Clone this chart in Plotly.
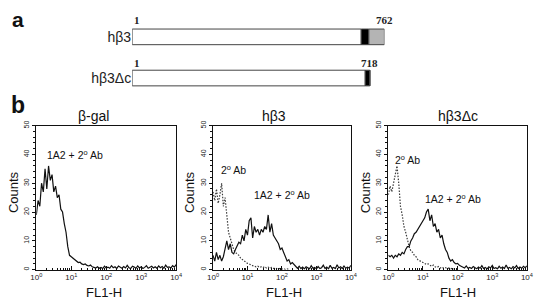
import numpy as np
import plotly.graph_objects as go

W, H = 542, 306

# ---------------- part a: constructs ----------------
CONSTRUCTS = ["hβ3", "hβ3Δc"]
CONSTRUCT_LEN = [762, 718]
TM_START = [692, 704]
TM_END = [715, 718]

# ---------------- part b: FACS histograms ----------------
FL1_LOG = np.linspace(0, 4, 81)  # channel positions (log10 FL1-H)

BGAL_1A2 = [19, 24, 22, 30, 27, 35, 28, 36, 31, 33, 27, 29, 25, 26, 21, 20, 16, 13, 8, 5,
            4.5, 4, 3.5, 3, 2.5, 2.6, 2, 1.8, 2, 1.5, 1.3, 1.6, 1, 0.8,
            0.6, 1.0, 0.5, 0.8, 0.4, 1.2, 0.6, 0.9, 0.5, 1.4, 0.7, 1.0, 0.4, 1.3, 0.8, 0.5,
            1.1, 0.6, 1.5, 0.7, 0.4, 1.2, 0.9, 0.5, 1.3, 0.6, 1.0, 0.4, 0.8, 1.4, 0.5, 0.9,
            1.2, 0.6, 1.0, 0.5, 1.3, 0.7, 1.1, 0.5, 1.6, 0.8, 1.0, 0.6, 1.4, 0.9, 1.8]

HB3_2AB = [27, 24, 28, 23, 26, 30, 22, 25, 19, 13, 11, 9, 7, 6, 5.5, 5, 4, 3.5, 3, 2.5,
           2.2, 2, 1.6, 1.4, 1.2, 1.0, 1.2, 0.8, 1.0, 0.7, 1.1, 0.6, 0.9, 0.5, 0.8, 0.4,
           0.6, 0.3, 0.2, 0.5, 0.2, 0.4, 0.1, 0.3, 0.1]

HB3_1A2 = [5, 3, 6, 3.5, 5, 3, 4.5, 7, 10, 7, 9, 6, 5.5, 7, 8, 9.5, 9, 12, 10, 14,
           12, 17, 18, 11, 15, 13, 14, 12, 14, 13, 15, 14, 19, 13, 16, 12, 11, 10, 9, 7,
           7.5, 6, 4.5, 3, 3.5, 2, 2.5, 1.8, 1.2,
           0.5, 1.2, 0.4, 0.9, 0.3, 1.0, 0.6, 0.3, 1.4, 0.5, 0.8, 0.3, 1.1, 0.4, 0.7, 1.6,
           0.4, 0.9, 0.3, 1.5, 0.5, 0.8, 0.4, 1.7, 0.6, 1.0, 0.4, 1.3, 0.5, 0.9, 0.6, 1.5]

HB3DC_2AB = [26, 29, 27, 30, 33, 36, 30, 22, 19, 15, 13, 10, 8, 6.5, 6, 5, 4.5, 3.5, 3, 2.8,
             2.5, 2, 1.8, 2, 1.5, 1.2, 1.6, 1, 0.8, 1.1, 0.6, 0.9, 0.5, 0.7, 0.4, 0.6,
             0.3, 0.5, 0.2, 0.3]

HB3DC_1A2 = [5, 4.5, 5, 4, 5, 4.5, 5.5, 5, 6, 5.5, 7, 8, 8, 10, 11, 12.5, 13, 14, 15, 16,
             17, 18, 20, 21, 17, 19, 15, 16, 13, 14, 11, 12, 9, 7, 6, 4, 3, 3.5, 2.5, 2,
             2.2, 1.5, 1.2,
             1.0, 0.6, 1.3, 0.5, 0.8, 0.4, 1.1, 0.6, 0.3, 0.9, 0.5, 1.4, 0.4, 0.8, 0.3, 1.0,
             0.6, 1.5, 0.4, 0.7, 0.3, 1.2, 0.5, 0.9, 0.4, 1.6, 0.5, 0.8, 0.3, 1.1, 0.6, 1.4,
             0.4, 0.9, 0.5, 1.2, 0.7, 1.3]

PANEL_TITLES = ["β-gal", "hβ3", "hβ3Δc"]
X_TICKVALS = [1, 10, 100, 1000, 10000]
X_TICKTEXT = ["10<sup>0</sup>", "10<sup>1</sup>", "10<sup>2</sup>", "10<sup>3</sup>", "10<sup>4</sup>"]
Y_TICKVALS = [0, 10, 20, 30, 40, 50]

for arr in (BGAL_1A2, HB3_1A2, HB3DC_1A2):
    assert len(arr) == 81, len(arr)

FONT = "Liberation Sans, Arial, sans-serif"
SERIF = "Liberation Serif, Times New Roman, serif"


def fx(px):
    return px / W


def fy(py):
    return 1 - py / H


# panel geometry (pixels)
P_LEFT = [31, 211.7, 391]
P_RIGHT = [174, 352.7, 532.7]
P_TOP, P_BOT = 123, 270

fig = go.Figure()

panels = [
    (None, BGAL_1A2),
    (HB3_2AB, HB3_1A2),
    (HB3DC_2AB, HB3DC_1A2),
]

for i, (dotted, solid) in enumerate(panels):
    ax = "" if i == 0 else str(i + 1)
    if dotted is not None:
        fig.add_trace(go.Scatter(
            x=10 ** FL1_LOG[:len(dotted)], y=dotted, mode="lines",
            line=dict(color="#3a3a3a", width=1.2, dash="1.5px,1.5px"),
            xaxis="x" + ax, yaxis="y" + ax, showlegend=False, hoverinfo="skip"))
    fig.add_trace(go.Scatter(
        x=10 ** FL1_LOG[:len(solid)], y=solid, mode="lines",
        line=dict(color="#111111", width=1.2),
        xaxis="x" + ax, yaxis="y" + ax, showlegend=False, hoverinfo="skip"))

    xa = dict(
        domain=[fx(P_LEFT[i]), fx(P_RIGHT[i])], anchor="y" + ax, type="log",
        range=[0, 4], tickvals=X_TICKVALS, ticktext=X_TICKTEXT,
        ticks="inside", ticklen=4, tickwidth=1, tickcolor="#111",
        minor=dict(ticks="inside", ticklen=2, dtick="D1", tickcolor="#111"),
        showline=True, linecolor="#111", linewidth=1.3, mirror=True,
        showgrid=False, zeroline=False,
        tickfont=dict(family=FONT, size=8, color="#222"),
    )
    ya = dict(
        domain=[fy(P_BOT), fy(P_TOP)], anchor="x" + ax,
        range=[0, 50], tickvals=Y_TICKVALS, tickangle=-90,
        ticks="outside", ticklen=3, tickwidth=1, tickcolor="#111",
        minor=dict(ticks="outside", ticklen=2, dtick=2, tickcolor="#111"),
        showline=True, linecolor="#111", linewidth=1.3, mirror=True,
        showgrid=False, zeroline=False,
        tickfont=dict(family=FONT, size=7, color="#222"),
    )
    fig.update_layout(**{"xaxis" + ax: xa, "yaxis" + ax: ya})

# part a bars on axis 4
white_len = [s - 1 for s in TM_START]
black_len = [e - s for s, e in zip(TM_START, TM_END)]
tail_len = [L - e for L, e in zip(CONSTRUCT_LEN, TM_END)]
bar_common = dict(orientation="h", xaxis="x4", yaxis="y4", width=0.38,
                  showlegend=False, hoverinfo="skip",
                  marker_line=dict(color="#444", width=1))
fig.add_trace(go.Bar(y=CONSTRUCTS, x=white_len, base=[1, 1],
                     marker_color="white", **bar_common))
fig.add_trace(go.Bar(y=CONSTRUCTS, x=black_len, base=TM_START,
                     marker_color="black", **bar_common))
fig.add_trace(go.Bar(y=CONSTRUCTS, x=tail_len, base=TM_END,
                     marker_color="#b4b4b4", **bar_common))

fig.update_layout(
    xaxis4=dict(domain=[fx(129), fx(387)], anchor="y4", range=[1, 762],
                visible=False),
    yaxis4=dict(domain=[fy(95.5), fy(11.5)], anchor="x4", range=[-0.5, 1.5],
                type="category", categoryorder="array",
                categoryarray=CONSTRUCTS[::-1],
                showline=False, showgrid=False, zeroline=False, ticks="",
                tickfont=dict(family=FONT, size=14, color="#222")),
    barmode="overlay",
)

ann = []
# residue numbers
ann.append(dict(x=1, y=1, xref="x4", yref="y4", text="<b>1</b>", showarrow=False,
                xanchor="left", yshift=17, font=dict(family=SERIF, size=11, color="#222")))
ann.append(dict(x=CONSTRUCT_LEN[0], y=1, xref="x4", yref="y4", text="<b>%d</b>" % CONSTRUCT_LEN[0],
                showarrow=False, xanchor="center", yshift=17,
                font=dict(family=SERIF, size=11, color="#222")))
ann.append(dict(x=1, y=0, xref="x4", yref="y4", text="<b>1</b>", showarrow=False,
                xanchor="left", yshift=15, font=dict(family=SERIF, size=11, color="#222")))
ann.append(dict(x=CONSTRUCT_LEN[1], y=0, xref="x4", yref="y4", text="<b>%d</b>" % CONSTRUCT_LEN[1],
                showarrow=False, xanchor="center", yshift=15,
                font=dict(family=SERIF, size=11, color="#222")))

# panel letters
ann.append(dict(x=fx(4), y=fy(15), xref="paper", yref="paper", text="<b>a</b>",
                showarrow=False, xanchor="left", yanchor="middle",
                font=dict(family=FONT, size=21, color="#111")))
ann.append(dict(x=fx(3), y=fy(102), xref="paper", yref="paper", text="<b>b</b>",
                showarrow=False, xanchor="left", yanchor="middle",
                font=dict(family=FONT, size=23, color="#111")))

title_x = [89, 274, 462]
fl1_x = [100, 284, 462]
counts_x = [7, 187, 367]
for i in range(3):
    ann.append(dict(x=fx(title_x[i]), y=fy(113), xref="paper", yref="paper",
                    text=PANEL_TITLES[i], showarrow=False, xanchor="center", yanchor="middle",
                    font=dict(family=FONT, size=14, color="#111")))
    ann.append(dict(x=fx(fl1_x[i]), y=fy(293), xref="paper", yref="paper",
                    text="FL1-H", showarrow=False, xanchor="center", yanchor="middle",
                    font=dict(family=FONT, size=13, color="#111")))
    ann.append(dict(x=fx(counts_x[i]), y=fy(191), xref="paper", yref="paper",
                    text="Counts", showarrow=False, textangle=-90,
                    xanchor="center", yanchor="middle",
                    font=dict(family=FONT, size=13, color="#111")))

LABEL_1A2 = "1A2 + 2<sup>o</sup> Ab"
LABEL_2AB = "2<sup>o</sup> Ab"
inner = [
    ("x", "y", 1.11, 39.8, LABEL_1A2),
    ("x2", "y2", 0.60, 34.7, LABEL_2AB),
    ("x2", "y2", 2.0, 26.2, LABEL_1A2),
    ("x3", "y3", 0.54, 38.4, LABEL_2AB),
    ("x3", "y3", 1.87, 24.8, LABEL_1A2),
]
for xr, yr, xv, yv, t in inner:
    ann.append(dict(x=xv, y=yv, xref=xr, yref=yr, text=t, showarrow=False,
                    xanchor="center", yanchor="middle",
                    font=dict(family=FONT, size=10.5, color="#111")))

fig.update_layout(
    width=W, height=H, margin=dict(l=0, r=0, t=0, b=0),
    paper_bgcolor="white", plot_bgcolor="white",
    annotations=ann,
)

fig.write_html("out.html")
